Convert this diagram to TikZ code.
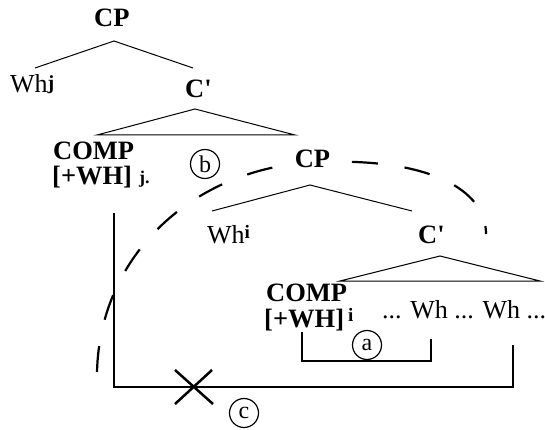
\documentclass[tikz,border=0pt]{standalone}
\usepackage{fontspec}
\setmainfont{Liberation Serif}
\begin{document}
\begin{tikzpicture}[x=1pt,y=-1pt,
 lbl/.style={inner sep=0pt, anchor=base west, font=\fontsize{26.5}{30}\selectfont\bfseries},
 wtxt/.style={inner sep=0pt, anchor=base west, font=\fontsize{26}{28}\selectfont},
 tree/.style={line width=1pt},
 brk/.style={line width=2pt},
 tag/.style={circle, draw, line width=1.2pt, minimum size=29pt, inner sep=0pt, font=\fontsize{24}{24}\selectfont},
 arcline/.style={line width=2.2pt, dash pattern=on 26pt off 27pt},
 cross/.style={line width=2.5pt}]
\useasboundingbox (0,0) rectangle (545,430);
% dashed arc (drawn first so CP can cover it)
\coordinate (d0) at (97,372);
\coordinate (d1) at (320,162);
\coordinate (d2) at (486,234);
\draw[arcline] (d0) .. controls (100,250) and (200,165) .. (d1) .. controls (430,158) and (486,190) .. (d2);

% upper tree
\node[lbl] (cp1) at (94,27) {CP};
\node[wtxt] (whj) at (10,93) {Wh\raisebox{3pt}{\fontsize{20}{20}\selectfont\bfseries j}};
\node[lbl] (cbar1) at (185,98) {C\textquotesingle};
\node[lbl] (comp1) at (53,160) {COMP};
\node[lbl] (wh1) at (52,185) {[+WH]\hspace{7pt}\raisebox{1pt}{\fontsize{18}{18}\selectfont j.}};
\coordinate (a1) at (114,41);
\coordinate (l1) at (35,68);
\coordinate (r1) at (193,68);
\draw[tree] (l1) -- (a1) -- (r1);
\coordinate (a2) at (195,109);
\coordinate (l2) at (97,135);
\coordinate (r2) at (295,135);
\draw[tree] (l2) -- (a2) -- (r2) -- cycle;

% lower tree
\node[lbl, fill=white, inner xsep=5pt, inner ysep=2pt, anchor=base] (cp2) at (312.5,168) {CP};
\node[wtxt] (whi) at (207,243) {Wh\raisebox{5pt}{\fontsize{19}{19}\selectfont\bfseries i}};
\node[lbl] (cbar2) at (418,243) {C\textquotesingle};
\coordinate (a3) at (310,185);
\coordinate (l3) at (212,211);
\coordinate (r3) at (412,211);
\draw[tree] (l3) -- (a3) -- (r3);
\coordinate (a4) at (440,256);
\coordinate (l4) at (340,281);
\coordinate (r4) at (540,281);
\draw[tree] (l4) -- (a4) -- (r4) -- cycle;
\node[lbl] (comp2) at (266,301) {COMP};
\node[lbl] (wh2) at (264,327) {[+WH]\hspace{4pt}\raisebox{6pt}{\fontsize{19}{19}\selectfont i}};
\node[wtxt] (seq) at (382,318) {... Wh ... Wh ...};

% brackets
\coordinate (ba1) at (302,332);
\coordinate (ba2) at (302,361);
\coordinate (ba3) at (431,361);
\coordinate (ba4) at (431,339);
\draw[brk] (ba1) -- (ba2) -- (ba3) -- (ba4);
\coordinate (bc1) at (114,213);
\coordinate (bc2) at (114,387);
\coordinate (bc3) at (513,387);
\coordinate (bc4) at (513,345);
\draw[brk] (bc1) -- (bc2) -- (bc3) -- (bc4);

% cross
\coordinate (x1) at (175,370);
\coordinate (x2) at (213,404);
\coordinate (x3) at (212,370);
\coordinate (x4) at (175,404);
\draw[cross] (x1) -- (x2);
\draw[cross] (x3) -- (x4);

% tags
\node[tag] (tb) at (205,164) {b};
\node[tag] (ta) at (367,345) {a};
\node[tag] (tc) at (244,413) {c};
\end{tikzpicture}
\end{document}
